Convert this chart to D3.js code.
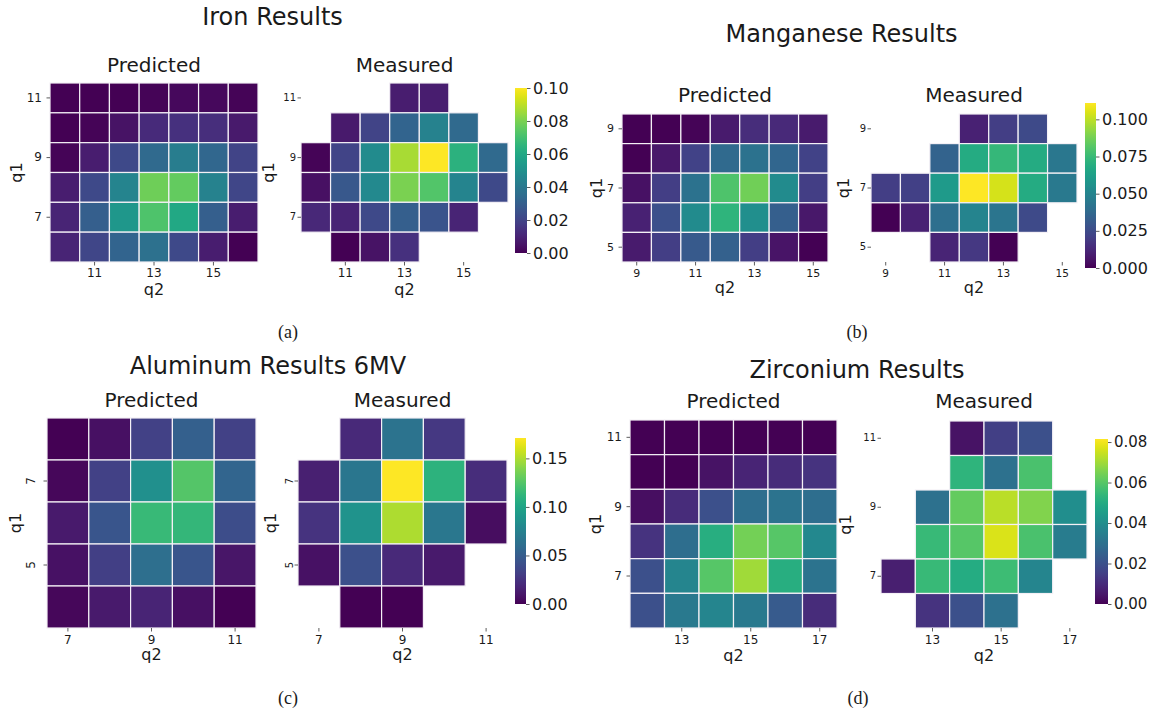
<!DOCTYPE html>
<html><head><meta charset="utf-8">
<script src="https://cdn.jsdelivr.net/npm/d3@7"></script>
<style>
body{margin:0;background:#fff}
svg{display:block}
text{font-family:"DejaVu Sans",sans-serif;fill:#1a1a1a}
</style>
</head><body>
<svg id="chart" width="1153" height="715"></svg>
<script>
// ---------------- DATA ----------------
// Iron
const feQ1 = [11,10,9,8,7,6];
const feQ2 = [10,11,12,13,14,15,16];
const fePredicted = [
  [0.000,0.000,0.000,0.001,0.002,0.002,0.001],
  [0.000,0.001,0.005,0.012,0.014,0.013,0.007],
  [0.001,0.008,0.022,0.034,0.042,0.033,0.020],
  [0.008,0.022,0.045,0.078,0.076,0.044,0.021],
  [0.010,0.030,0.053,0.072,0.060,0.030,0.008],
  [0.010,0.021,0.032,0.037,0.022,0.008,0.000]
];
const feMeasured = [
  [null,null,null,0.008,0.008,null,null],
  [null,0.007,0.020,0.032,0.044,0.034,null],
  [0.001,0.020,0.048,0.087,0.100,0.064,0.034],
  [0.004,0.027,0.047,0.080,0.073,0.045,0.022],
  [0.011,0.010,0.022,0.030,0.026,0.010,null],
  [null,0.000,0.005,0.014,null,null,null]
];
const feXTicks = [11,13,15];
const feYTicks = [11,9,7];
const feColorTicks = [0,0.02,0.04,0.06,0.08,0.10];
const feColorMax = 0.10;

// Manganese
const mnQ1 = [9,8,7,6,5];
const mnQ2 = [9,10,11,12,13,14,15];
const mnPredicted = [
  [0.000,0.000,0.001,0.008,0.014,0.013,0.008],
  [0.000,0.007,0.022,0.038,0.042,0.036,0.022],
  [0.005,0.020,0.042,0.080,0.087,0.053,0.020],
  [0.010,0.027,0.053,0.072,0.055,0.033,0.007],
  [0.008,0.020,0.031,0.034,0.020,0.006,0.000]
];
const mnMeasured = [
  [null,null,null,0.010,0.020,0.025,null],
  [null,null,0.035,0.068,0.074,0.068,0.044],
  [0.020,0.021,0.060,0.111,0.104,0.068,0.045],
  [0.000,0.010,0.040,0.050,0.043,0.025,null],
  [null,null,0.011,0.018,0.000,null,null]
];
const mnXTicks = [9,11,13,15];
const mnYTicks = [9,7,5];
const mnColorTicks = [0,0.025,0.05,0.075,0.1];
const mnColorMax = 0.111;

// Aluminum
const alQ1 = [8,7,6,5,4];
const alQ2 = [7,8,9,10,11];
const alPredicted = [
  [0.000,0.007,0.033,0.052,0.033],
  [0.003,0.033,0.085,0.125,0.055],
  [0.012,0.045,0.115,0.113,0.040],
  [0.008,0.032,0.062,0.045,0.010],
  [0.003,0.012,0.017,0.007,0.000]
];
const alMeasured = [
  [null,0.020,0.065,0.028,null],
  [0.015,0.067,0.171,0.110,0.022],
  [0.025,0.088,0.150,0.068,0.006],
  [0.008,0.042,0.020,0.012,null],
  [null,0.000,0.000,null,null]
];
const alXTicks = [7,9,11];
const alYTicks = [7,5];
const alColorTicks = [0,0.05,0.10,0.15];
const alColorMax = 0.171;

// Zirconium
const zrQ1 = [11,10,9,8,7,6];
const zrQ2 = [12,13,14,15,16,17];
const zrPredicted = [
  [0.000,0.000,0.000,0.000,0.000,0.000],
  [0.000,0.000,0.004,0.008,0.010,0.012],
  [0.003,0.010,0.020,0.029,0.031,0.029],
  [0.012,0.029,0.051,0.064,0.060,0.038],
  [0.020,0.037,0.060,0.070,0.051,0.031],
  [0.020,0.033,0.037,0.033,0.023,0.010]
];
const zrMeasured = [
  [null,null,0.004,0.015,0.020,null],
  [null,null,0.053,0.030,0.058,null],
  [null,0.030,0.062,0.073,0.066,0.040],
  [null,0.055,0.060,0.077,0.058,0.034],
  [0.007,0.055,0.050,0.056,0.037,null],
  [null,0.012,0.020,0.030,null,null]
];
const zrXTicks = [13,15,17];
const zrYTicks = [11,9,7];
const zrColorTicks = [0,0.02,0.04,0.06,0.08];
const zrColorMax = 0.0815;

const titles = ["Iron Results","Manganese Results","Aluminum Results 6MV","Zirconium Results"];
const captions = ["(a)","(b)","(c)","(d)"];
const subTitles = ["Predicted","Measured"];

// ---------------- LAYOUT ----------------
const panels = [
  {title:titles[0], cap:captions[0], q1:feQ1, q2:feQ2, pred:fePredicted, meas:feMeasured, xT:feXTicks, yT:feYTicks, cT:feColorTicks, cMax:feColorMax, fmt:".2f",
   L:{tx:272.5, ty:25, cx:288, cy:338, sy:72, pb:[50,83,258,262], mb:[301,83,508,262], cb:[515,88,527,253], xtb:15, xlb:33, q1p:34, q1m:33, cfs:16, tfs:12, rot:false}},
  {title:titles[1], cap:captions[1], q1:mnQ1, q2:mnQ2, pred:mnPredicted, meas:mnMeasured, xT:mnXTicks, yT:mnYTicks, cT:mnColorTicks, cMax:mnColorMax, fmt:".3f",
   L:{tx:841.5, ty:42, cx:857, cy:338, sy:102, pb:[622,114,828,262], mb:[871,114,1077,262], cb:[1085,103,1096,268], xtb:15, xlb:31, q1p:26, q1m:28, cfs:16, tfs:11, rot:false}},
  {title:titles[2], cap:captions[2], q1:alQ1, q2:alQ2, pred:alPredicted, meas:alMeasured, xT:alXTicks, yT:alYTicks, cT:alColorTicks, cMax:alColorMax, fmt:".2f",
   L:{tx:268, ty:374, cx:288, cy:704, sy:407, pb:[47,418,256,628], mb:[298,418,507,628], cb:[515,438,526,604], xtb:16, xlb:32, q1p:32, q1m:28, cfs:16, tfs:12, rot:true}},
  {title:titles[3], cap:captions[3], q1:zrQ1, q2:zrQ2, pred:zrPredicted, meas:zrMeasured, xT:zrXTicks, yT:zrYTicks, cT:zrColorTicks, cMax:zrColorMax, fmt:".2f",
   L:{tx:857, ty:378, cx:858, cy:704, sy:408, pb:[630,420,837,628], mb:[881,421,1087,628], cb:[1095,439,1108,604], xtb:16, xlb:33, q1p:35, q1m:36, cfs:15, tfs:12, rot:false}}
];

const svg = d3.select("#chart");
const defs = svg.append("defs");
const grad = defs.append("linearGradient").attr("id","viridisGrad")
  .attr("x1",0).attr("y1",1).attr("x2",0).attr("y2",0);
d3.range(0,1.0001,0.02).forEach(t=>{
  grad.append("stop").attr("offset",t).attr("stop-color",d3.interpolateViridis(t));
});

function styleAxis(g, fs){
  g.select(".domain").remove();
  g.selectAll(".tick line").attr("stroke","#333").attr("stroke-width",0.8);
  g.selectAll(".tick text").attr("font-size",fs).attr("fill","#222").attr("font-family","DejaVu Sans, sans-serif");
}

function heatmap(g, box, p, vals, color, measured){
  const [x0,y0,x1,y1] = box;
  const L = p.L;
  const x = d3.scaleBand().domain(p.q2).range([x0,x1]);
  const y = d3.scaleBand().domain(p.q1).range([y0,y1]);
  const cells = [];
  vals.forEach((row,i)=>row.forEach((v,j)=>{ if(v!==null) cells.push({r:p.q1[i], c:p.q2[j], v}); }));
  g.append("g").selectAll("rect").data(cells).join("rect")
    .attr("x",d=>x(d.c)).attr("y",d=>y(d.r))
    .attr("width",x.bandwidth()).attr("height",y.bandwidth())
    .attr("fill",d=>color(d.v))
    .attr("stroke","#f4f0f6").attr("stroke-width",1.2);

  // x axis
  const tfsX = measured ? (L.tfs>11?12:10.5) : L.tfs;
  const padX = L.xtb - 3.5 - 0.71*tfsX;
  const xa = g.append("g").attr("transform",`translate(0,${y1})`)
    .call(d3.axisBottom(x).tickValues(p.xT).tickSize(3.5).tickPadding(padX));
  styleAxis(xa, tfsX);

  // y axis
  const tfsY = measured ? 10 : L.tfs;
  const ya = g.append("g").attr("transform",`translate(${x0},0)`)
    .call(d3.axisLeft(y).tickValues(p.yT).tickSize(3.5).tickPadding(measured?1.5:4.5));
  styleAxis(ya, tfsY);
  if(L.rot){
    const off = measured ? 5 : 12;
    ya.selectAll(".tick text")
      .attr("x",0).attr("dy",null).attr("text-anchor","middle")
      .attr("transform",`translate(${-off},0) rotate(-90)`);
  }

  // axis labels
  g.append("text").attr("x",(x0+x1)/2).attr("y",y1+L.xlb)
    .attr("text-anchor","middle").attr("font-size",16).text("q2");
  const qx = x0 - (measured ? L.q1m : L.q1p);
  g.append("text").attr("transform",`translate(${qx},${(y0+y1)/2}) rotate(-90)`)
    .attr("text-anchor","middle").attr("dy","0.35em").attr("font-size",16).text("q1");

  // subtitle
  g.append("text").attr("x",(x0+x1)/2).attr("y",L.sy)
    .attr("text-anchor","middle").attr("font-size",20).text(measured?subTitles[1]:subTitles[0]);
}

panels.forEach(p=>{
  const L = p.L;
  const g = svg.append("g");
  const color = d3.scaleSequential(d3.interpolateViridis).domain([0,p.cMax]);
  g.append("text").attr("x",L.tx).attr("y",L.ty).attr("text-anchor","middle")
    .attr("font-size",24).text(p.title);
  g.append("text").attr("x",L.cx).attr("y",L.cy).attr("text-anchor","middle")
    .attr("font-size",18).style("font-family","'Liberation Serif', 'DejaVu Serif', serif").text(p.cap);

  heatmap(g, L.pb, p, p.pred, color, false);
  heatmap(g, L.mb, p, p.meas, color, true);

  // colorbar
  const [cx0,cy0,cx1,cy1] = L.cb;
  g.append("rect").attr("x",cx0).attr("y",cy0).attr("width",cx1-cx0).attr("height",cy1-cy0)
    .attr("fill","url(#viridisGrad)");
  const cs = d3.scaleLinear().domain([0,p.cMax]).range([cy1,cy0]);
  const ca = g.append("g").attr("transform",`translate(${cx1},0)`)
    .call(d3.axisRight(cs).tickValues(p.cT).tickSize(3.5).tickPadding(2.5).tickFormat(d3.format(p.fmt)));
  styleAxis(ca, L.cfs);
});
</script>
</body></html>
